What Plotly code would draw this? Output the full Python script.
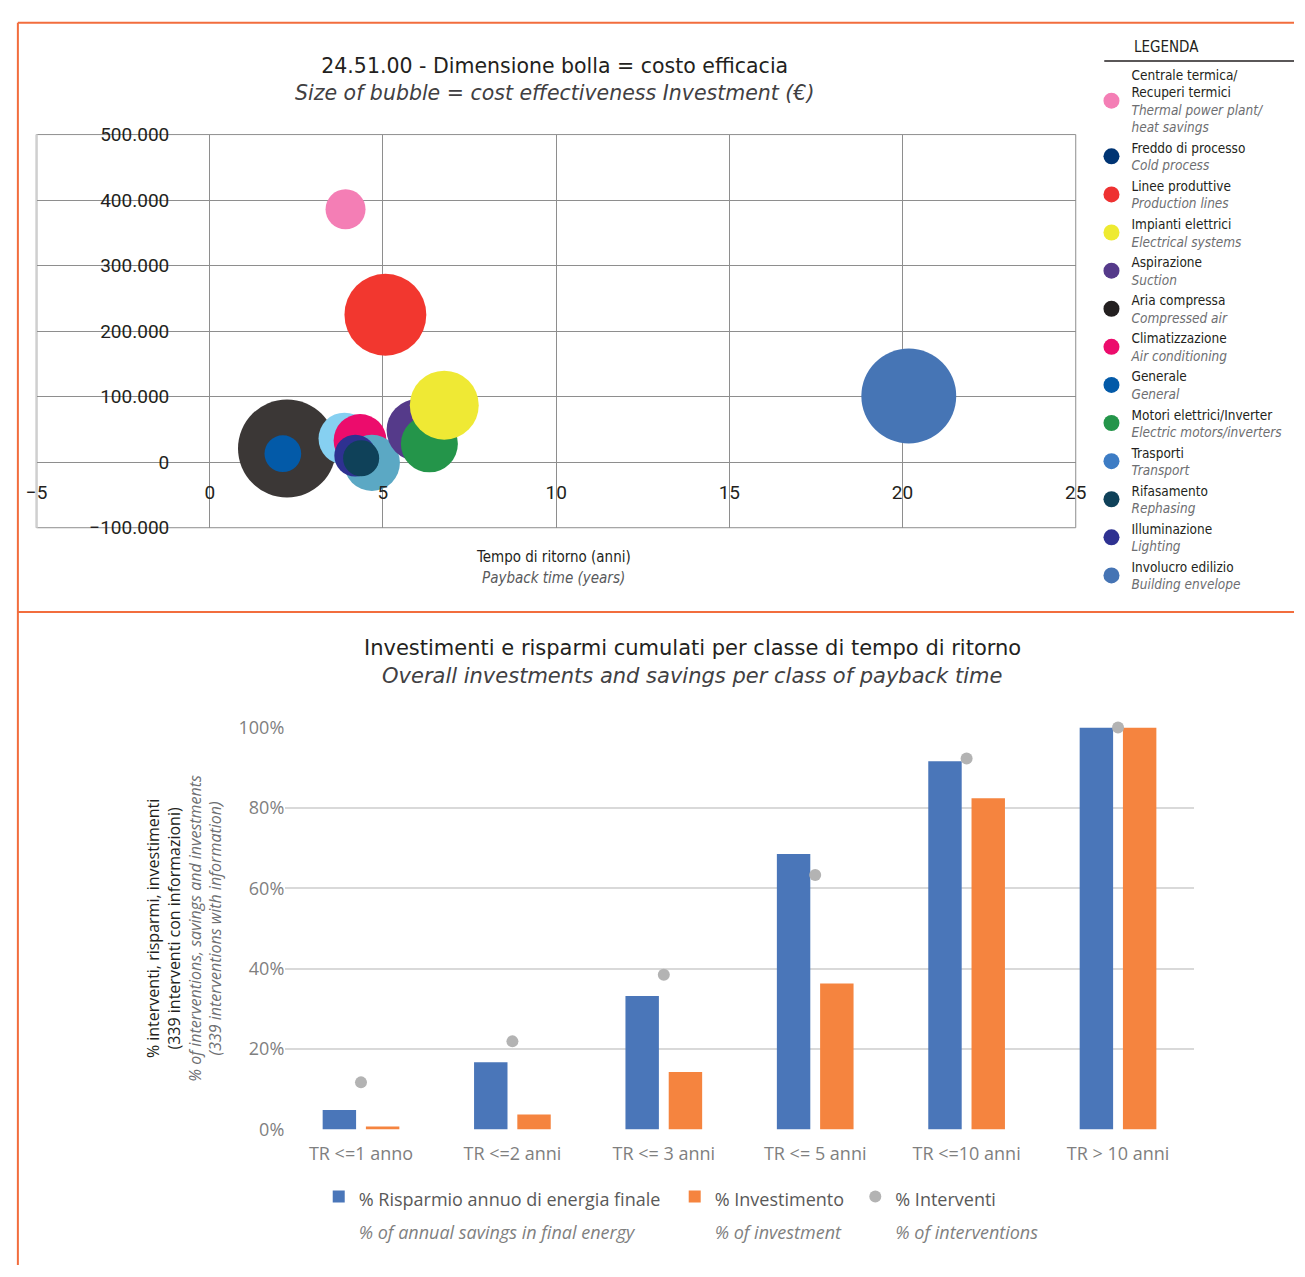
import plotly.graph_objects as go

W, H = 1305, 1277

# ---------------- Top chart: bubble data ----------------
categorie_it = ["Centrale termica/<br>Recuperi termici", "Freddo di processo", "Linee produttive",
                "Impianti elettrici", "Aspirazione", "Aria compressa", "Climatizzazione",
                "Generale", "Motori elettrici/Inverter", "Trasporti", "Rifasamento",
                "Illuminazione", "Involucro edilizio"]
categorie_en = ["Thermal power plant/<br>heat savings", "Cold process", "Production lines",
                "Electrical systems", "Suction", "Compressed air", "Air conditioning",
                "General", "Electric motors/inverters", "Transport", "Rephasing",
                "Lighting", "Building envelope"]
tempo_ritorno = [3.92, 3.89, 5.07, 6.77, 6.00, 2.23, 4.34, 2.11, 6.34, 4.68, 4.37, 4.20, 20.18]
valore_y = [386000, 36000, 225000, 87000, 49000, 21000, 33000, 13000, 28000, -1000, 6000, 10000, 101000]
investimento = [160000, 270000, 670000, 475000, 385000, 960000, 280000, 135000, 325000,
                315000, 130000, 175000, 900000]
colori_bolle = ["#f47eb5", "#86d0f1", "#f2372f", "#efe934", "#553a8a", "#3b3736", "#ec0c6c",
                "#035aa8", "#24954a", "#5ba8c4", "#0f4159", "#2e3191", "#4675b5"]
colori_legenda = ["#f47eb5", "#003473", "#ee3131", "#eeea31", "#553a8a", "#231f20", "#ec0c6c",
                  "#035aa8", "#24954a", "#3d7cc4", "#0f4159", "#2e3191", "#4574b4"]
ordine_disegno = [5, 7, 1, 6, 9, 11, 10, 4, 8, 3, 2, 0, 12]

# ---------------- Bottom chart data ----------------
classi = ["TR <=1 anno", "TR <=2 anni", "TR <= 3 anni", "TR <= 5 anni", "TR <=10 anni", "TR > 10 anni"]
risparmio = [0.048, 0.167, 0.332, 0.685, 0.916, 1.0]
investimento_pct = [0.007, 0.037, 0.143, 0.363, 0.824, 1.0]
interventi = [0.117, 0.219, 0.385, 0.633, 0.923, 1.0]
serie_it = ["% Risparmio annuo di energia finale", "% Investimento", "% Interventi"]
serie_en = ["% of annual savings in final energy", "% of investment", "% of interventions"]

def px_x(p):
    return p / W

def px_y(p):
    return 1 - p / H

fig = go.Figure()

# bubbles
fig.add_trace(go.Scatter(
    x=[tempo_ritorno[i] for i in ordine_disegno],
    y=[valore_y[i] for i in ordine_disegno],
    mode="markers",
    marker=dict(size=[investimento[i] for i in ordine_disegno],
                sizemode="area", sizeref=200,
                color=[colori_bolle[i] for i in ordine_disegno],
                opacity=1, line=dict(width=0)),
    showlegend=False, hoverinfo="skip", xaxis="x", yaxis="y", cliponaxis=False,
))

# legend entries (top legend)
for it, en, c in zip(categorie_it, categorie_en, colori_legenda):
    it_lines = it.split("<br>")
    en_lines = en.split("<br>")
    txt = "<br>".join(it_lines + ["<span style='color:#6d6e71'><i>%s</i></span>" % l for l in en_lines])
    fig.add_trace(go.Scatter(
        x=[None], y=[None], mode="markers",
        marker=dict(size=17, color=c),
        name=txt, legend="legend2", xaxis="x", yaxis="y", hoverinfo="skip",
    ))

NB = "\u00a0"

def leg_name(it, en, pad):
    return ("<span style='font-size:18px'>%s%s</span><br>"
            "<span style='font-size:18px;color:#7f7f7f'><i>%s</i></span>" % (it, pad, en))

# bottom bars
fig.add_trace(go.Bar(
    x=classi, y=risparmio, marker=dict(color="#4a76b9", line=dict(width=0)),
    name=leg_name(serie_it[0], serie_en[0], NB * 2),
    xaxis="x2", yaxis="y2", legend="legend",
))
fig.add_trace(go.Bar(
    x=classi, y=investimento_pct, marker=dict(color="#f5843f", line=dict(width=0)),
    name=leg_name(serie_it[1], serie_en[1] + NB * 2, ""),
    xaxis="x2", yaxis="y2", legend="legend",
))
fig.add_trace(go.Scatter(
    x=classi, y=interventi, mode="markers",
    marker=dict(size=12, color="#b3b3b3"),
    name=leg_name(serie_it[2], serie_en[2], ""),
    xaxis="x2", yaxis="y2", legend="legend", cliponaxis=False,
))

narrow = "Liberation Sans Narrow, DejaVu Sans Condensed, Roboto Condensed, Arial Narrow, sans-serif"
geo = "DejaVu Sans, Open Sans, sans-serif"
light = "Open Sans, Noto Sans, sans-serif"

annotations = [
    dict(text="24.51.00 - Dimensione bolla = costo efficacia<br>"
              "<span style='color:#414042'><i>Size of bubble = cost effectiveness Investment (€)</i></span>",
         x=px_x(553), y=px_y(67.5),
         font=dict(family=geo, size=20.5, color="#231f20")),
    dict(text="Tempo di ritorno (anni)", x=px_x(552), y=px_y(555),
         font=dict(family=narrow, size=15, color="#231f20")),
    dict(text="<i>Payback time (years)</i>", x=px_x(552), y=px_y(576),
         font=dict(family=narrow, size=15, color="#58595b")),
    dict(text="LEGENDA", x=px_x(1140), y=px_y(35), xanchor="left",
         font=dict(family=narrow, size=15, color="#231f20")),
    dict(text="Investimenti e risparmi cumulati per classe di tempo di ritorno", x=px_x(693), y=px_y(648),
         font=dict(family=geo, size=21, color="#231f20")),
    dict(text="<i>Overall investments and savings per class of payback time</i>", x=px_x(693), y=px_y(676),
         font=dict(family=geo, size=21, color="#414042")),
]
for a in annotations:
    a.setdefault("xanchor", "center")
    a.update(xref="paper", yref="paper", yanchor="middle", showarrow=False)

orange = "#f26d3d"
shapes = [
    dict(type="line", xref="paper", yref="paper", x0=px_x(7), x1=1, y0=px_y(10), y1=px_y(10),
         line=dict(color=orange, width=2)),
    dict(type="line", xref="paper", yref="paper", x0=px_x(7), x1=px_x(7), y0=px_y(10), y1=0,
         line=dict(color=orange, width=2)),
    dict(type="line", xref="paper", yref="paper", x0=px_x(7), x1=1, y0=px_y(611), y1=px_y(611),
         line=dict(color=orange, width=2)),
    dict(type="line", xref="paper", yref="paper", x0=px_x(1112), x1=1, y0=px_y(49), y1=px_y(49),
         line=dict(color="#231f20", width=1.5)),
    dict(type="rect", xref="x domain", yref="y domain", x0=0, x1=1, y0=0, y1=1,
         line=dict(color="#8e8e8e", width=1), layer="below"),
    dict(type="line", xref="x domain", yref="y domain", x0=0, x1=0, y0=0, y1=1,
         line=dict(color="#cfcfcf", width=2.5), layer="below"),
]

fig.update_layout(
    width=W, height=H,
    margin=dict(l=0, r=0, t=0, b=0),
    paper_bgcolor="white", plot_bgcolor="white",
    separators=",.",
    showlegend=True,
    barmode="group", bargap=0.4286, bargroupgap=0.227,
    annotations=annotations, shapes=shapes,
    xaxis=dict(domain=[px_x(26), px_x(1083)], range=[-5, 25], tickvals=[-5, 0, 5, 10, 15, 20, 25],
               showgrid=True, gridcolor="#8e8e8e", gridwidth=1, zeroline=False, showline=False,
               ticks="", anchor="free", position=px_y(475),
               tickfont=dict(family="Roboto, sans-serif", size=19, color="#231f20")),
    yaxis=dict(domain=[px_y(525), px_y(124)], range=[-100000, 500000], dtick=100000,
               tickformat=",d", showgrid=True, gridcolor="#8e8e8e", gridwidth=1, zeroline=False,
               showline=False, ticks="", anchor="free", position=px_x(161),
               tickfont=dict(family="Roboto, sans-serif", size=19, color="#231f20")),
    xaxis2=dict(domain=[px_x(279), px_x(1203)], anchor="y2", type="category",
                showgrid=False, showline=False, ticks="", ticklabelstandoff=12,
                tickfont=dict(family=light, size=18, color="#7f7f7f")),
    yaxis2=dict(domain=[px_y(1138.7), px_y(728.7)], anchor="x2", range=[0, 1], dtick=0.2,
                tickformat=".0%", showgrid=True, gridcolor="#d9d9d9", gridwidth=2,
                zeroline=False, showline=False, ticks="",
                tickfont=dict(family=light, size=18, color="#7f7f7f"),
                title=dict(text="% interventi, risparmi, investimenti<br>(339 interventi con informazioni)<br>"
                                "<span style='color:#6d6e71'><i>% of interventions, savings and investments</i></span><br>"
                                "<span style='color:#6d6e71'><i>(339 interventions with information)</i></span>",
                           font=dict(family=light, size=16, color="#231f20"), standoff=12)),
    legend=dict(orientation="h", x=px_x(313), y=px_y(1184), xanchor="left", yanchor="top",
                font=dict(family=light, size=25, color="#595959"), valign="top",
                bgcolor="rgba(0,0,0,0)", traceorder="normal"),
    legend2=dict(orientation="v", x=px_x(1099), y=px_y(47), xanchor="left", yanchor="top",
                 font=dict(family=narrow, size=13.5, color="#231f20"), valign="middle",
                 bgcolor="rgba(0,0,0,0)", tracegroupgap=0, traceorder="normal"),
)

fig.write_html("out.html")
